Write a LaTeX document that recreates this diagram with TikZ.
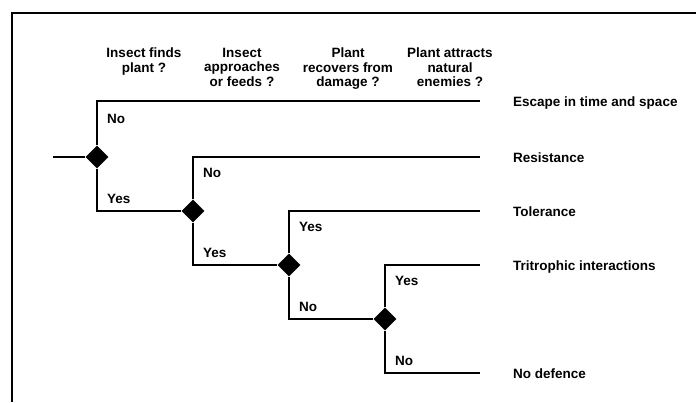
\documentclass[tikz,border=0pt]{standalone}
\usepackage{fontspec}
\setmainfont{Liberation Sans}
\usetikzlibrary{shapes.geometric, math}

\tikzset{
  branch/.style={line width=1.8},
  fork/.style={diamond, fill=black, inner sep=0pt, minimum size=23pt},
  answer/.style={anchor=base west, inner sep=0pt, font=\fontsize{13.5}{15}\bfseries},
  outcome/.style={anchor=base west, inner sep=0pt, font=\fontsize{13.5}{15}\bfseries},
  question/.style={anchor=north, align=center, inner sep=0pt, font=\fontsize{13.5}{14.5}\bfseries}
}

\begin{document}
\begin{tikzpicture}[x=1pt,y=-1pt]
\tikzmath{
\dx=96;
\dy=54;
}
\useasboundingbox (0,0) rectangle (696,402);

% frame
\draw[line width=1.8] (696,13) -- (12,13) -- (12,402);

% questions
\node[question] (q1) at (144,48) {Insect finds\\plant ?};
\node[question] (q2) at (242,48) {Insect\\approaches\\or feeds ?};
\node[question] (q3) at (348,48) {Plant\\recovers from\\damage ?};
\node[question] (q4) at (450,48) {Plant attracts\\natural\\enemies ?};

% decision points
\foreach \i in {1,...,4}{
\node[fork] (d\i) at ({97+(\i-1)*\dx},{157+(\i-1)*\dy}) {};
}

% ends of the branches
\foreach \i/\y in {1/101,2/157,3/211,4/265,5/373}{
\coordinate (e\i) at (480,\y);
}

% outcomes
\node[outcome] (o1) at (513,106) {Escape in time and space};
\node[outcome] (o2) at (513,162) {Resistance};
\node[outcome] (o3) at (513,216) {Tolerance};
\node[outcome] (o4) at (513,270) {Tritrophic interactions};
\node[outcome] (o5) at (513,378) {No defence};

\coordinate (start) at (53,157);
\draw[branch] (start) -- (d1.west);

% upper branches
\foreach \i in {1,...,4}{
\draw[branch] (d\i.north) |- (e\i);
}

% lower branches
\draw[branch] (d1.south) |- (d2.west);
\draw[branch] (d2.south) |- (d3.west);
\draw[branch] (d3.south) |- (d4.west);
\draw[branch] (d4.south) |- (e5);

% answers
\foreach \i/\up/\dn in {1/No/Yes,2/No/Yes,3/Yes/No,4/Yes/No}{
\node[answer] (u\i) at ({107+(\i-1)*\dx},{123+(\i-1)*\dy}) {\up};
\node[answer] (l\i) at ({107+(\i-1)*\dx},{203+(\i-1)*\dy}) {\dn};
}

\end{tikzpicture}
\end{document}
